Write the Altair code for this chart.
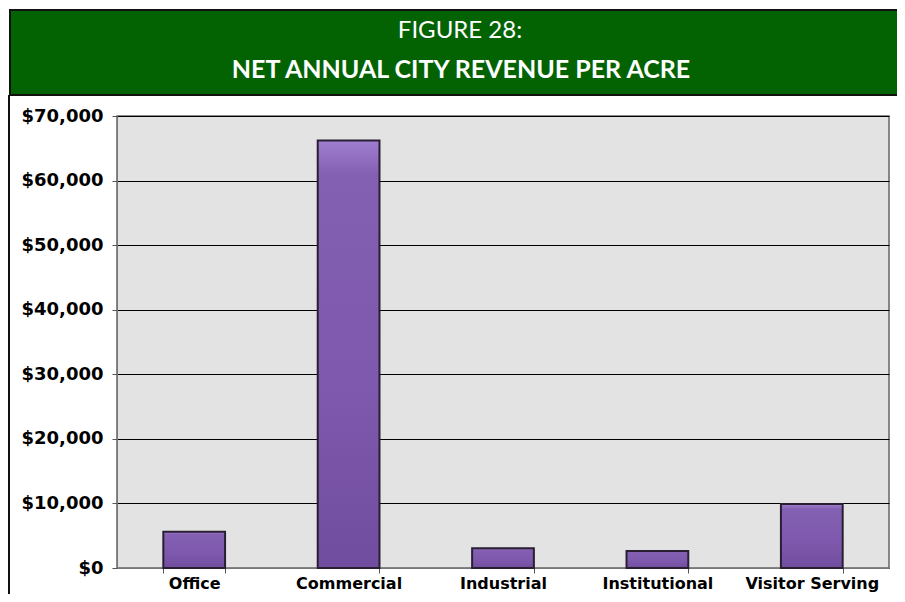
import altair as alt
import pandas as pd

# ---- data ----
categories = ["Office", "Commercial", "Industrial", "Institutional", "Visitor Serving"]
revenue = [5620, 66200, 3050, 2630, 9900]
y_ticks = [0, 10000, 20000, 30000, 40000, 50000, 60000, 70000]
title_line1 = "FIGURE 28:"
title_line2 = "NET ANNUAL CITY REVENUE PER ACRE"

df = pd.DataFrame({"category": categories, "revenue": revenue})
one = pd.DataFrame({"k": [0]})

W, H = 772, 452
PAD = {"left": 109, "top": 108, "right": 8, "bottom": 26}

bars = alt.Chart(df).mark_bar(
    color=alt.Gradient(
        gradient="linear",
        stops=[
            alt.GradientStop(color="#a07ecf", offset=0),
            alt.GradientStop(color="#8460b3", offset=0.08),
            alt.GradientStop(color="#7d58ac", offset=0.6),
            alt.GradientStop(color="#714d9f", offset=1),
        ],
        x1=0, x2=0, y1=0, y2=1,
    ),
    stroke="#2a1f32",
    strokeWidth=2,
).encode(
    x=alt.X(
        "category:N",
        sort=categories,
        title=None,
        scale=alt.Scale(paddingInner=0.6, paddingOuter=0.3),
        axis=alt.Axis(
            labelAngle=0,
            labelFont="DejaVu Sans",
            labelFontWeight="bold",
            labelFontSize=16,
            labelColor="#000",
            labelPadding=2,
            tickBand="extent",
            tickColor="#555",
            tickSize=5,
            domainColor="#777",
            grid=False,
        ),
    ),
    y=alt.Y(
        "revenue:Q",
        title=None,
        scale=alt.Scale(domain=[0, 70000], nice=False),
        axis=alt.Axis(
            values=y_ticks,
            format="$,.0f",
            labelFont="DejaVu Sans",
            labelFontWeight="bold",
            labelFontSize=18,
            labelColor="#000",
            labelPadding=9,
            tickColor="#555",
            tickSize=5,
            domainColor="#777",
            grid=True,
            gridColor="#000",
            gridWidth=1,
            gridOpacity=1,
        ),
    ),
)

header_bg = alt.Chart(one).mark_rect(
    color="#036303", stroke="#111", strokeWidth=2
).encode(
    x=alt.value(-107), x2=alt.value(800),
    y=alt.value(-106), y2=alt.value(-21),
)

left_border = alt.Chart(one).mark_rule(color="#111", strokeWidth=2).encode(
    x=alt.value(-108), y=alt.value(-21), y2=alt.value(490)
)

header1 = alt.Chart(one).mark_text(
    text=title_line1, font="Lato", fontSize=24, color="white",
    align="center", baseline="middle",
).encode(x=alt.value(343), y=alt.value(-85))

header2 = alt.Chart(one).mark_text(
    text=title_line2, font="Lato", fontSize=25, fontWeight="bold", color="white",
    align="center", baseline="middle",
).encode(x=alt.value(344), y=alt.value(-46))

chart = alt.layer(header_bg, left_border, header1, header2, bars).properties(
    width=W,
    height=H,
    padding=PAD,
    autosize=alt.AutoSizeParams(type="none"),
    background="white",
).configure_view(
    fill="#e3e3e3", stroke="#666", strokeWidth=1.5
)

chart.save("out.html", embed_options={"renderer": "svg", "actions": False})
